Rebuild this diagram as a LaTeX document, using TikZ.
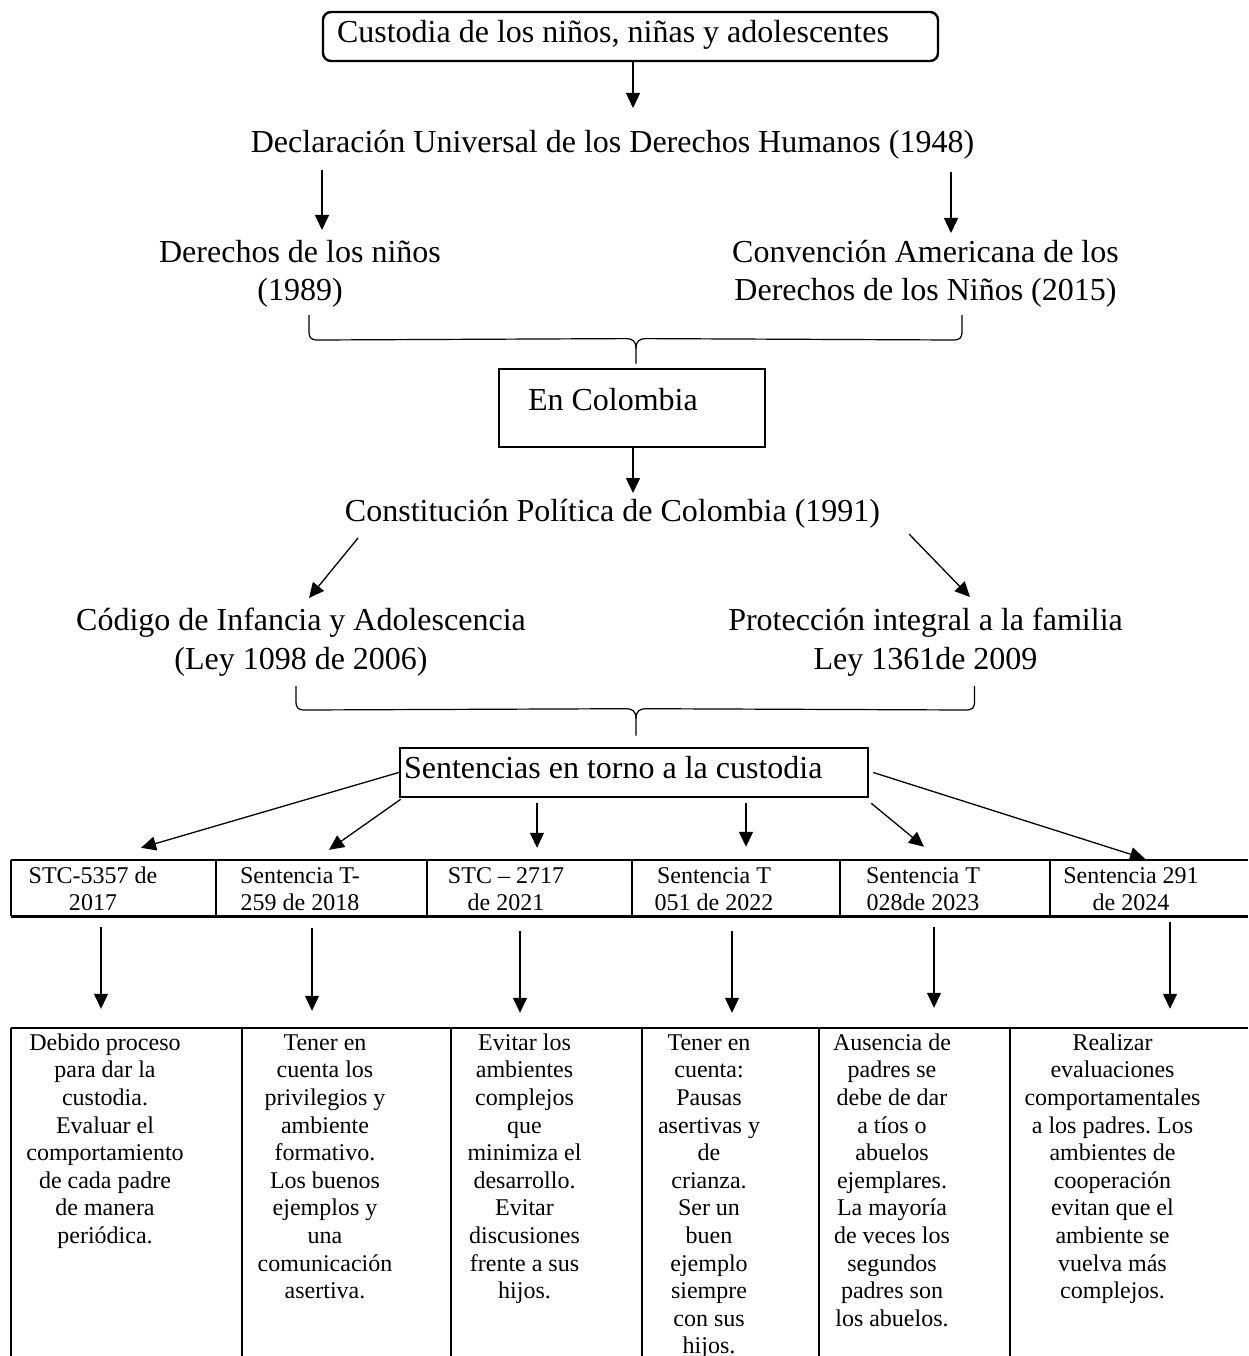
\documentclass[tikz,border=0pt]{standalone}
\usepackage{fontspec}
\setmainfont{Liberation Serif}
\usetikzlibrary{arrows.meta,calc}
\newcommand\mainsz{\fontsize{32}{38.5}\selectfont}
\newcommand\cellsz{\fontsize{24}{27.6}\selectfont}
\frenchspacing
\begin{document}
\begin{tikzpicture}[x=1pt,y=-1pt,
  arr/.style={line width=1.3pt,-{Triangle[length=15pt,width=14pt]}},
  bracel/.style={line width=1.2pt},
  gridl/.style={line width=2.6pt},
  mtext/.style={font=\mainsz,inner sep=0pt,align=center},
  mone/.style={mtext,text height=23pt,text depth=7pt},
  ctext/.style={font=\cellsz,inner sep=0pt,align=center,anchor=north},
  cell/.style={inner sep=0pt,minimum height=#1},
]
\fill[white] (0,0) rectangle (1248,1356);
\useasboundingbox (0,0) rectangle (1248,1356);

% top box
\node[draw,rounded corners=8pt,line width=2.4pt,minimum width=615pt,minimum height=49pt,
  text width=587pt,inner xsep=14pt,inner ysep=0pt,align=flush left,font=\mainsz,
  text height=23pt,text depth=10pt] (top) at (630.5,36.5) {Custodia de los niños, niñas y adolescentes};

\node[mone] (decl) at (612.5,145) {Declaración Universal de los Derechos Humanos (1948)};
\node[mtext] (der) at (300,274) {Derechos de los niños\\(1989)};
\node[mtext] (conv) at (925.5,274) {Convención Americana de los\\Derechos de los Niños (2015)};

\node[draw,line width=2.8pt,minimum width=266pt,minimum height=78pt,
  text width=208pt,inner xsep=29pt,inner ysep=0pt,align=flush left,font=\mainsz,
  text height=23pt,text depth=19pt] (col) at (632,408) {En Colombia};

\node[mone] (const) at (612.5,513) {Constitución Política de Colombia (1991)};
\node[mtext] (cod) at (301,642) {Código de Infancia y Adolescencia\\(Ley 1098 de 2006)};
\node[mtext] (prot) at (925.5,642) {Protección integral a la familia\\Ley 1361de 2009};

\node[draw,line width=2.6pt,minimum width=468pt,minimum height=49pt,
  text width=460pt,inner xsep=4pt,inner ysep=0pt,align=flush left,font=\mainsz,
  text height=23pt,text depth=12pt] (sent) at (634,772.5) {Sentencias en torno a la custodia};

% table 1 cells
\node[cell=56pt,minimum width=205pt] (t1) at (113.5,888) {};
\node[cell=56pt,minimum width=211pt] (t2) at (321.5,888) {};
\node[cell=56pt,minimum width=205pt] (t3) at (529.5,888) {};
\node[cell=56pt,minimum width=208pt] (t4) at (736,888) {};
\node[cell=56pt,minimum width=210pt] (t5) at (945,888) {};
\node[cell=56pt,minimum width=198pt] (t6) at (1149,888) {};
\draw[gridl] (t1.north west) -- (t6.north east);
\draw[gridl] (t1.south west) -- (t6.south east);
\foreach \c in {t1,t2,t3,t4,t5,t6}{\draw[gridl] (\c.north west) -- (\c.south west);}

\node[ctext] (l1) at (93,863.7) {\strut STC-5357 de\\2017};
\node[ctext] (l2) at (300,863.7) {\strut Sentencia T-\\259 de 2018};
\node[ctext] (l3) at (506,863.7) {\strut STC – 2717\\de 2021};
\node[ctext] (l4) at (714,863.7) {\strut Sentencia T\\051 de 2022};
\node[ctext] (l5) at (923,863.7) {\strut Sentencia T\\028de 2023};
\node[ctext] (l6) at (1131,863.7) {\strut Sentencia 291\\de 2024};

% table 2 cells
\node[cell=328pt,minimum width=231pt] (d1) at (126.5,1192) {};
\node[cell=328pt,minimum width=209pt] (d2) at (346.5,1192) {};
\node[cell=328pt,minimum width=191pt] (d3) at (546.5,1192) {};
\node[cell=328pt,minimum width=177pt] (d4) at (730.5,1192) {};
\node[cell=328pt,minimum width=191pt] (d5) at (914.5,1192) {};
\node[cell=328pt,minimum width=238pt] (d6) at (1129,1192) {};
\draw[gridl] (d1.north west) -- (d6.north east);
\foreach \c in {d1,d2,d3,d4,d5,d6}{\draw[gridl] (\c.north west) -- (\c.south west);}

\node[ctext] (b1) at (105,1030.7) {\strut Debido proceso\\para dar la\\custodia.\\Evaluar el\\comportamiento\\de cada padre\\de manera\\periódica.};
\node[ctext] (b2) at (325,1030.7) {\strut Tener en\\cuenta los\\privilegios y\\ambiente\\formativo.\\Los buenos\\ejemplos y\\una\\comunicación\\asertiva.};
\node[ctext] (b3) at (524.5,1030.7) {\strut Evitar los\\ambientes\\complejos\\que\\minimiza el\\desarrollo.\\Evitar\\discusiones\\frente a sus\\hijos.};
\node[ctext] (b4) at (709,1030.7) {\strut Tener en\\cuenta:\\Pausas\\asertivas y\\de\\crianza.\\Ser un\\buen\\ejemplo\\siempre\\con sus\\hijos.};
\node[ctext] (b5) at (892,1030.7) {\strut Ausencia de\\padres se\\debe de dar\\a tíos o\\abuelos\\ejemplares.\\La mayoría\\de veces los\\segundos\\padres son\\los abuelos.};
\node[ctext] (b6) at (1112.5,1030.7) {\strut Realizar\\evaluaciones\\comportamentales\\a los padres. Los\\ambientes de\\cooperación\\evitan que el\\ambiente se\\vuelva más\\complejos.};

% arrows
\draw[arr] ($(top.south)+(2.5,0)$) -- ($(decl)+(20.5,-37)$);
\draw[arr] ($(decl)+(-290.5,25)$) -- ($(der)+(22,-44)$);
\draw[arr] ($(decl)+(338.5,27)$) -- ($(conv)+(25.5,-41)$);
\draw[arr] ($(col.south)+(1,0)$) -- ($(const)+(20.5,-20)$);
\draw[arr] ($(const)+(-254.5,25)$) -- ($(cod)+(8,-44)$);
\draw[arr] ($(const)+(296.5,21)$) -- ($(prot)+(44.5,-45)$);

\draw[arr] (sent.west) -- ($(t1.north)+(27.5,-12)$);
\draw[arr] ($(sent.south west)+(2,1)$) -- ($(t2.north)+(7.5,-10)$);
\draw[arr] ($(sent.south)+(-97,5)$) -- ($(t3.north)+(7.5,-12)$);
\draw[arr] ($(sent.south)+(112,5)$) -- ($(t4.north)+(10,-13)$);
\draw[arr] ($(sent.south east)+(2,5)$) -- ($(t5.north)+(-21,-13)$);
\draw[arr] ($(sent.east)+(4,0)$) -- ($(t6.north)+(-4,-1)$);

\draw[arr] ($(t1.south)+(-12.5,11)$) -- ($(d1.north)+(-25.5,-19)$);
\draw[arr] ($(t2.south)+(-9.5,12)$) -- ($(d2.north)+(-34.5,-17)$);
\draw[arr] ($(t3.south)+(-9.5,15)$) -- ($(d3.north)+(-26.5,-15)$);
\draw[arr] ($(t4.south)+(-4,15)$) -- ($(d4.north)+(1.5,-15)$);
\draw[arr] ($(t5.south)+(-11,11)$) -- ($(d5.north)+(19.5,-20)$);
\draw[arr] ($(t6.south)+(21,6)$) -- ($(d6.north)+(41,-19)$);

% braces
\coordinate (b1L) at ($(der)+(9,41)$);
\coordinate (b1R) at ($(conv)+(36.5,41)$);
\coordinate (b1T) at ($(col.north)+(4,-4)$);
\draw[bracel] (b1L) -- ++(0,16) .. controls +(0,7) and +(-7,0) .. ++(9,9) -- ($(b1T)+(-10,-25)$) .. controls +(6,0) and +(0,-8) .. ($(b1T)+(0,-15)$) -- (b1T);
\draw[bracel] (b1R) -- ++(0,16) .. controls +(0,7) and +(7,0) .. ++(-9,9) -- ($(b1T)+(10,-25)$) .. controls +(-6,0) and +(0,-8) .. ($(b1T)+(0,-15)$);

\coordinate (b2L) at ($(cod)+(-5,44)$);
\coordinate (b2R) at ($(prot)+(49,44)$);
\coordinate (b2T) at ($(sent.north)+(2,-11)$);
\draw[bracel] (b2L) -- ++(0,15) .. controls +(0,7) and +(-7,0) .. ++(9,9) -- ($(b2T)+(-10,-27)$) .. controls +(6,0) and +(0,-8) .. ($(b2T)+(0,-17)$) -- (b2T);
\draw[bracel] (b2R) -- ++(0,15) .. controls +(0,7) and +(7,0) .. ++(-9,9) -- ($(b2T)+(10,-27)$) .. controls +(-6,0) and +(0,-8) .. ($(b2T)+(0,-17)$);
\end{tikzpicture}
\end{document}
